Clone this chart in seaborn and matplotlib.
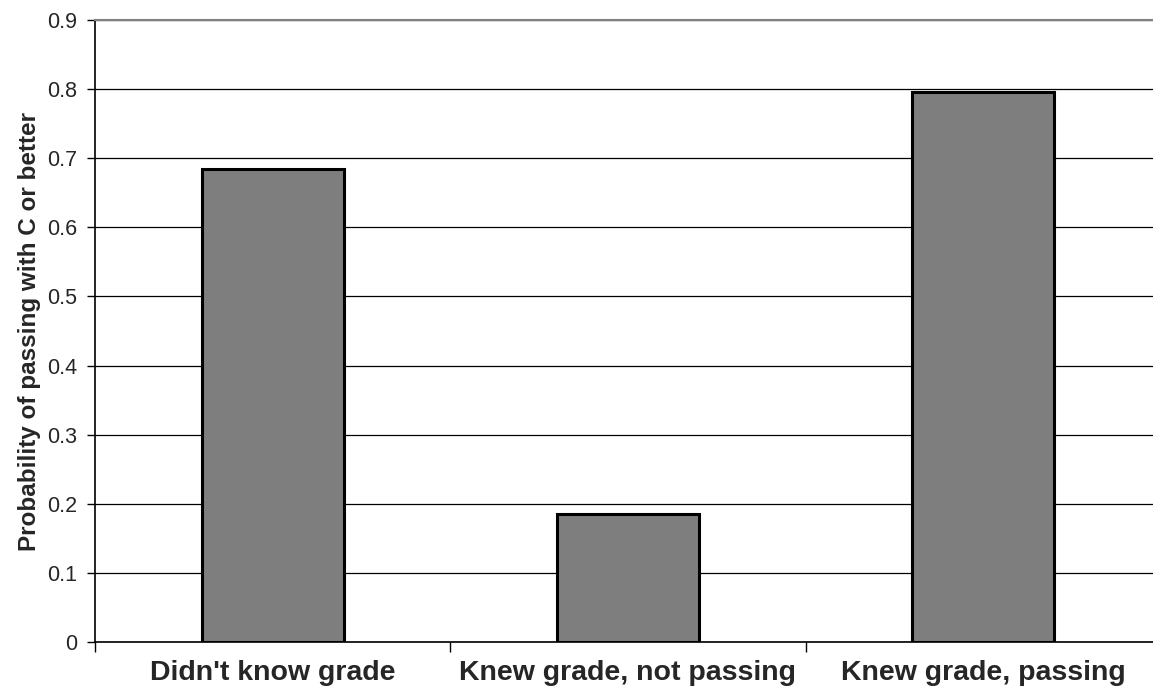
import matplotlib
matplotlib.use("Agg")
import matplotlib.pyplot as plt
import seaborn as sns
import pandas as pd
from matplotlib.ticker import FixedLocator

categories = ["Didn't know grade", "Knew grade, not passing", "Knew grade, passing"]
probabilities = [0.684, 0.185, 0.796]
y_ticks = [0, 0.1, 0.2, 0.3, 0.4, 0.5, 0.6, 0.7, 0.8, 0.9]

sns.set_style("white")
plt.rcParams["font.family"] = ["Liberation Sans", "DejaVu Sans"]

df = pd.DataFrame({"group": categories, "p": probabilities})

fig = plt.figure(figsize=(11.53, 6.98), dpi=100)
# plot area runs slightly past the right edge of the canvas
ax = fig.add_axes([0.0824, 0.0802, 0.9245, 0.8911])

sns.barplot(data=df, x="group", y="p", ax=ax, color="#7e7e7e", saturation=1,
            width=0.40, edgecolor="black", linewidth=2.2, zorder=3)

ax.set_xlim(-0.5, 2.5)
ax.set_ylim(0, 0.9)
ax.set_yticks(y_ticks)
ax.set_yticklabels(["0" if v == 0 else f"{v:.1f}" for v in y_ticks], fontsize=15.5)
ax.yaxis.grid(True, color="black", linewidth=0.9, zorder=0)
ax.set_axisbelow(True)

ax.tick_params(axis="y", which="major", direction="out", length=6, width=1, color="black", pad=7, left=True)
ax.tick_params(axis="x", which="major", length=0, pad=13)
ax.xaxis.set_minor_locator(FixedLocator([-0.5, 0.5, 1.5, 2.5]))
ax.tick_params(axis="x", which="minor", direction="out", length=7, width=1, color="black", bottom=True)
for lbl in ax.get_xticklabels():
    lbl.set_fontsize(20.5)
    lbl.set_fontweight("bold")

ax.set_xlabel("")
ax.set_ylabel("Probability of passing with C or better", fontsize=17.5, fontweight="bold", labelpad=4)

ax.spines["left"].set_color("black")
ax.spines["left"].set_linewidth(1.2)
ax.spines["bottom"].set_color("black")
ax.spines["bottom"].set_linewidth(1.2)
ax.spines["top"].set_color("#808080")
ax.spines["top"].set_linewidth(1.5)
ax.spines["right"].set_visible(False)

fig.savefig("out.png", dpi=100)
